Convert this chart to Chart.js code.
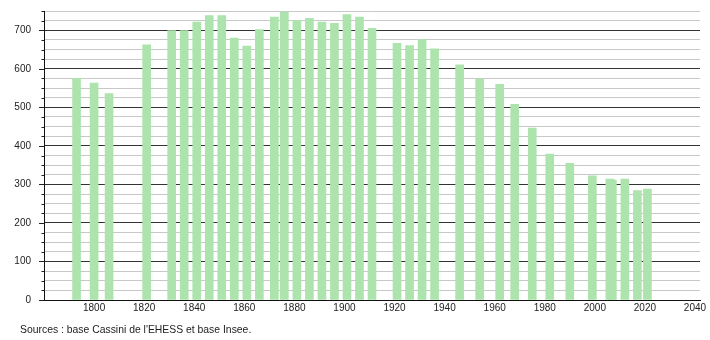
<!DOCTYPE html>
<html>
<head>
<meta charset="utf-8">
<style>
  html, body { margin: 0; padding: 0; background: #fff; }
  #wrap { width: 710px; height: 340px; }
</style>
<script src="https://cdn.jsdelivr.net/npm/chart.js@4/dist/chart.umd.min.js"></script>
</head>
<body>
<div id="wrap"><canvas id="popChart" width="710" height="340"></canvas></div>
<script>
  // Années de recensement
  var annees = [1793, 1800, 1806, 1821, 1831, 1836, 1841, 1846, 1851, 1856,
    1861, 1866, 1872, 1876, 1881, 1886, 1891, 1896, 1901, 1906,
    1911, 1921, 1926, 1931, 1936, 1946, 1954, 1962, 1968, 1975,
    1982, 1990, 1999, 2006, 2007, 2012, 2017, 2021];

  // Population
  var population = [575, 563, 536, 662, 699, 699, 721, 738, 738, 680,
    659, 702, 734, 747, 726, 731, 721, 718, 741, 734,
    705, 666, 660, 676, 652, 610, 574, 560, 508, 446,
    379, 355, 322, 314, 311, 314, 284, 288];

  var sourceTexte = "Sources : base Cassini de l'EHESS et base Insee.";

  var police = '"Liberation Sans", Arial, sans-serif';

  // petites graduations sur l'axe vertical + texte des sources
  var graduationsPlugin = {
    id: 'graduations',
    afterDraw: function (chart) {
      var ctx = chart.ctx;
      var y = chart.scales.y;
      var gauche = chart.chartArea.left;
      ctx.save();
      ctx.strokeStyle = '#222';
      ctx.lineWidth = 1;
      y.ticks.forEach(function (t) {
        var py = Math.round(y.getPixelForValue(t.value)) + 0.5;
        var len = (t.value % 100 === 0) ? 5 : 2.5;
        ctx.beginPath();
        ctx.moveTo(gauche - len, py);
        ctx.lineTo(gauche, py);
        ctx.stroke();
      });
      ctx.fillStyle = '#222';
      ctx.font = '10.4px ' + police;
      ctx.textBaseline = 'alphabetic';
      ctx.textAlign = 'left';
      ctx.fillText(sourceTexte, 20, 333);
      ctx.restore();
    }
  };

  var ctx = document.getElementById('popChart').getContext('2d');
  var popChart = new Chart(ctx, {
    type: 'bar',
    data: {
      datasets: [{
        label: 'Population',
        data: annees.map(function (a, i) { return { x: a, y: population[i] }; }),
        backgroundColor: '#ade3ad',
        borderWidth: 0,
        barThickness: 8
      }]
    },
    options: {
      responsive: false,
      animation: false,
      layout: { padding: { left: 0, right: 10, top: 11, bottom: 0 } },
      plugins: {
        legend: { display: false },
        tooltip: { enabled: false }
      },
      scales: {
        x: {
          type: 'linear',
          offset: false,
          min: 1780,
          max: 2042,
          grid: { display: false, drawTicks: false, offset: false },
          border: { display: true, color: '#111', width: 1 },
          ticks: {
            stepSize: 20,
            includeBounds: false,
            autoSkip: false,
            maxRotation: 0,
            padding: 2,
            color: '#222',
            font: { family: police, size: 10 },
            callback: function (v) { return (v >= 1800 && v % 20 === 0) ? String(v) : ''; }
          },
          afterFit: function (scale) { scale.height = 40; }
        },
        y: {
          min: 0,
          max: 750,
          grid: {
            drawTicks: true,
            tickLength: 13,
            tickColor: 'rgba(0,0,0,0)',
            color: function (c) { return (c.tick && c.tick.value % 100 === 0) ? '#333' : '#c8c8c8'; }
          },
          border: { display: true, color: '#111', width: 1 },
          ticks: {
            stepSize: 25,
            autoSkip: false,
            padding: 0,
            color: '#222',
            font: { family: police, size: 10 },
            callback: function (v) { return v % 100 === 0 ? String(v) : ''; }
          },
          afterFit: function (scale) { scale.width = 44; }
        }
      }
    },
    plugins: [graduationsPlugin]
  });
</script>
</body>
</html>
